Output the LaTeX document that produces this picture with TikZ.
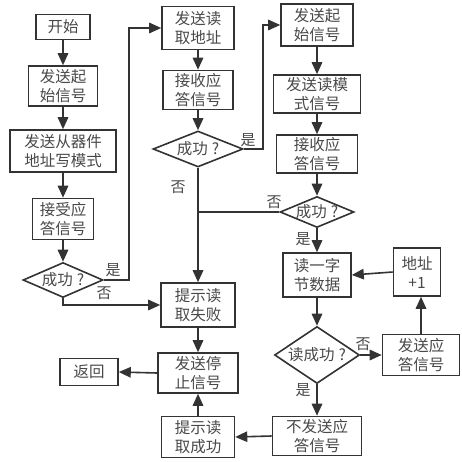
\documentclass[tikz,border=0pt]{standalone}
\usepackage{fontspec}
\newfontfamily\cjk{Noto Sans CJK SC}
\usetikzlibrary{shapes.geometric,arrows.meta}
\definecolor{linegray}{HTML}{333333}
\definecolor{textgray}{HTML}{484848}

\tikzset{
  box/.style={draw=linegray, line width=1.6pt, align=center, inner sep=0pt,
    text=textgray, font=\cjk\fontsize{15.5}{19}\selectfont},
  dia/.style={diamond, draw=linegray, line width=1.6pt, inner sep=0pt,
    label={[text=textgray, font=\cjk\fontsize{15.5}{19}\selectfont]center:#1}},
  lab/.style={text=textgray, font=\cjk\fontsize{15}{18}\selectfont, inner sep=0pt},
  flow/.style={draw=linegray, line width=1.6pt, -{Triangle[length=12pt,width=10.5pt]}},
  joinline/.style={draw=linegray, line width=1.6pt}
}

\begin{document}
\begin{tikzpicture}[x=1pt,y=-1pt]
  \useasboundingbox (0,0) rectangle (461,462);

  % left column
  \node[box, minimum width=54pt, minimum height=25pt] (start) at (63,27) {开始};
  \node[box, minimum width=69pt, minimum height=40pt] (s1) at (63,86) {发送起\\始信号};
  \node[box, minimum width=106pt, minimum height=42pt] (addrw) at (63,151) {发送从器件\\地址写模式};
  \node[box, minimum width=61pt, minimum height=41pt] (ack1) at (63,219) {接受应\\答信号};
  \node[dia={成功\hspace{4pt}?}, minimum width=80pt, minimum height=35pt] (d1) at (63,280) {};
  \node[box, minimum width=58pt, minimum height=27pt] (ret) at (89,372) {返回};

  % middle column
  \node[box, minimum width=72pt, minimum height=43pt] (rdaddr) at (198,28) {发送读\\取地址};
  \node[box, minimum width=70pt, minimum height=39pt] (ack2) at (198,90) {接收应\\答信号};
  \node[dia={成功\hspace{4pt}?}, minimum width=90pt, minimum height=36pt] (d2) at (198,149) {};
  \node[box, minimum width=74pt, minimum height=44pt] (fail) at (198,305) {提示读\\取失败};
  \node[box, minimum width=80pt, minimum height=40pt] (stop) at (198,373) {发送停\\止信号};
  \node[box, minimum width=73pt, minimum height=41pt] (okmsg) at (198,437) {提示读\\取成功};

  % right column
  \node[box, minimum width=72pt, minimum height=42pt] (s2) at (317,25) {发送起\\始信号};
  \node[box, minimum width=87pt, minimum height=38pt] (rdmode) at (317,94) {发送读模\\式信号};
  \node[box, minimum width=81pt, minimum height=38pt] (ack3) at (317,154) {接收应\\答信号};
  \node[dia={成功\hspace{4pt}?}, minimum width=74pt, minimum height=31pt] (d3) at (317,212) {};
  \node[box, minimum width=68pt, minimum height=44pt] (byte) at (317,275) {读一字\\节数据};
  \node[dia={读成功\hspace{4pt}?}, minimum width=85pt, minimum height=57pt] (d4) at (317,355) {};
  \node[box, minimum width=89pt, minimum height=39pt] (nack) at (317,436) {不发送应\\答信号};
  \node[box, minimum width=47pt, minimum height=48pt] (inc) at (417,272) {地址\\+1};
  \node[box, minimum width=77pt, minimum height=41pt] (sendack) at (421,355) {发送应\\答信号};

  % yes / no labels
  \node[lab] (y1) at (113,270) {是};
  \node[lab] (n1) at (104,293) {否};
  \node[lab] (y2) at (248,140) {是};
  \node[lab] (n2) at (178,187) {否};
  \node[lab] (n3) at (274,202) {否};
  \node[lab] (y3) at (303,239) {是};
  \node[lab] (n4) at (363,344) {否};
  \node[lab] (y4) at (303,390) {是};

  % connectors
  \draw[flow] (start) -- (s1);
  \draw[flow] (s1) -- (addrw);
  \draw[flow] (addrw) -- (ack1);
  \draw[flow] (ack1) -- (d1);
  \draw[flow] (d1.east) -- ++(25,0) |- (rdaddr.west);
  \draw[flow] (d1.south) |- (fail.west);
  \draw[flow] (rdaddr) -- (ack2);
  \draw[flow] (ack2) -- (d2);
  \draw[flow] (d2.east) -- ++(19,0) |- (s2.west);
  \draw[flow] (d2.south) -- (fail.north);
  \draw[joinline] (d3.west) -- (d3.west -| d2.south);
  \draw[flow] (s2) -- (rdmode);
  \draw[flow] (rdmode) -- (ack3);
  \draw[flow] (ack3) -- (d3);
  \draw[flow] (d3) -- (byte);
  \draw[flow] (byte) -- (d4);
  \draw[flow] (d4.east) -- (sendack.west);
  \draw[flow] (sendack.north) -- (sendack.north |- inc.south);
  \draw[flow] (inc.west) -- (byte.east);
  \draw[flow] (d4.south) -- (nack.north);
  \draw[flow] (nack.west) -- (okmsg.east);
  \draw[flow] (okmsg) -- (stop);
  \draw[flow] (fail) -- (stop);
  \draw[flow] (stop.west) -- (ret.east);
\end{tikzpicture}
\end{document}
